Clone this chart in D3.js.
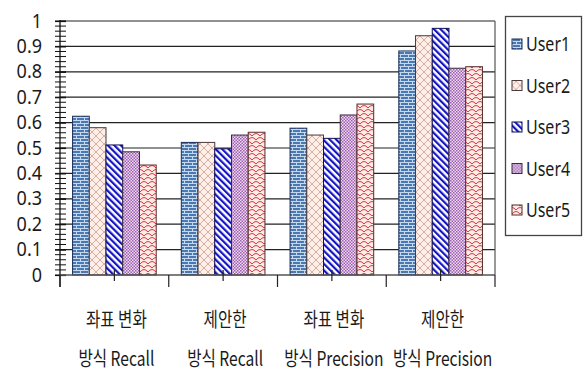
<!DOCTYPE html>
<html>
<head>
<meta charset="utf-8">
<script src="https://cdn.jsdelivr.net/npm/d3@7"></script>
<style>
  html, body { margin: 0; padding: 0; background: #fff; }
  svg { display: block; }
  text { fill: #1a1a1a; }
</style>
</head>
<body>
<svg id="chart" width="583" height="371"></svg>
<script>
// Categories (two-line labels) and per-user scores
const catLine1 = ["좌표 변화", "제안한", "좌표 변화", "제안한"];
const catLine2 = ["방식 Recall", "방식 Recall", "방식 Precision", "방식 Precision"];
const users = ["User1", "User2", "User3", "User4", "User5"];
const user1 = [0.625, 0.522, 0.578, 0.882];
const user2 = [0.58, 0.522, 0.551, 0.942];
const user3 = [0.512, 0.497, 0.538, 0.971];
const user4 = [0.485, 0.551, 0.630, 0.814];
const user5 = [0.433, 0.562, 0.673, 0.820];
const yTickLabels = ["0", "0.1", "0.2", "0.3", "0.4", "0.5", "0.6", "0.7", "0.8", "0.9", "1"];

const series = [user1, user2, user3, user4, user5];
const catIdx = d3.range(catLine1.length);

const svg = d3.select("#chart");
const plotL = 60, plotR = 495, plotT = 21, plotB = 275;

const y = d3.scaleLinear().domain([0, 1]).range([plotB, plotT]);
const x0 = d3.scaleBand().domain(catIdx).range([plotL, plotR]).padding(0);
const x1 = d3.scaleBand().domain(users).range([0, x0.bandwidth()])
  .paddingInner(0).paddingOuter(0.75);

// ---- fill patterns, one per user ----
const defs = svg.append("defs");

// User1: blue brick
const p1 = defs.append("pattern").attr("id", "pat0").attr("patternUnits", "userSpaceOnUse")
  .attr("width", 8).attr("height", 6);
p1.append("rect").attr("width", 8).attr("height", 6).attr("fill", "#4a78b0");
p1.append("path").attr("d", "M0,0.5H8 M0,3.5H8 M0.5,0V3 M4.5,3V6")
  .attr("stroke", "#c6d9ef").attr("stroke-width", 1).attr("fill", "none");

// User2: pale lattice
const p2 = defs.append("pattern").attr("id", "pat1").attr("patternUnits", "userSpaceOnUse")
  .attr("width", 8).attr("height", 8);
p2.append("rect").attr("width", 8).attr("height", 8).attr("fill", "#fdeee8");
p2.append("path").attr("d", "M0,0L8,8 M8,0L0,8")
  .attr("stroke", "#c9a093").attr("stroke-width", 0.8).attr("fill", "none");

// User3: wide blue diagonal stripes
const p3 = defs.append("pattern").attr("id", "pat2").attr("patternUnits", "userSpaceOnUse")
  .attr("width", 4.6).attr("height", 10).attr("patternTransform", "rotate(-45)");
p3.append("rect").attr("width", 4.6).attr("height", 10).attr("fill", "#ffffff");
p3.append("rect").attr("width", 2.2).attr("height", 10).attr("fill", "#1414c4");

// User4: fine purple checker
const p4 = defs.append("pattern").attr("id", "pat3").attr("patternUnits", "userSpaceOnUse")
  .attr("width", 3).attr("height", 3);
p4.append("rect").attr("width", 3).attr("height", 3).attr("fill", "#f2d8ef");
p4.append("rect").attr("width", 1.5).attr("height", 1.5).attr("fill", "#9a62b2");
p4.append("rect").attr("x", 1.5).attr("y", 1.5).attr("width", 1.5).attr("height", 1.5).attr("fill", "#9a62b2");

// User5: red scales
const p5 = defs.append("pattern").attr("id", "pat4").attr("patternUnits", "userSpaceOnUse")
  .attr("width", 8).attr("height", 8);
p5.append("rect").attr("width", 8).attr("height", 8).attr("fill", "#fdebe4");
p5.append("path")
  .attr("d", "M0,4 Q4,-1 8,4 M-4,8 Q0,3 4,8 M4,8 Q8,3 12,8")
  .attr("stroke", "#d8384a").attr("stroke-width", 1).attr("fill", "none");

const strokes = ["#1d2f5a", "#4a3a3a", "#10105a", "#3a2a40", "#5a2a2a"];

// ---- gridlines and plot frame ----
svg.append("g").selectAll("line").data(d3.range(1, 11).map(i => i / 10)).join("line")
  .attr("x1", plotL).attr("x2", plotR)
  .attr("y1", d => y(d)).attr("y2", d => y(d))
  .attr("stroke", "#222").attr("stroke-width", 1.2);
svg.append("line").attr("x1", plotR).attr("x2", plotR).attr("y1", plotT).attr("y2", plotB)
  .attr("stroke", "#555").attr("stroke-width", 1.2);

// ---- bars ----
const groups = svg.append("g").selectAll("g").data(series).join("g")
  .attr("fill", (d, i) => `url(#pat${i})`)
  .attr("stroke", (d, i) => strokes[i]);
groups.each(function (vals, si) {
  d3.select(this).selectAll("rect").data(vals).join("rect")
    .attr("x", (d, ci) => x0(ci) + x1(users[si]))
    .attr("width", x1.bandwidth())
    .attr("y", d => y(d))
    .attr("height", d => y(0) - y(d))
    .attr("stroke-width", 1);
});

// ---- y axis ----
const yAxis = d3.axisLeft(y)
  .tickValues(d3.range(0, 11).map(i => i / 10))
  .tickFormat((d, i) => yTickLabels[i])
  .tickSizeInner(5).tickSizeOuter(0).tickPadding(14);
const gy = svg.append("g").attr("transform", `translate(${plotL},0)`).call(yAxis);
gy.select(".domain").remove();
gy.selectAll(".tick line").attr("x2", 6).attr("x1", -5).attr("stroke", "#111").attr("stroke-width", 1.2);
gy.selectAll(".tick text")
  .attr("font-family", "'Noto Sans', sans-serif").attr("font-size", 20)
  .attr("fill", "#1a1a1a").attr("dy", "0.3em")
  .attr("transform", "scale(0.9,1)")
  .attr("x", -18 / 0.9);
// minor ticks
svg.append("g").selectAll("line").data(d3.range(0, 51).map(i => i / 50)).join("line")
  .attr("x1", plotL - 5).attr("x2", plotL + 6)
  .attr("y1", d => y(d)).attr("y2", d => y(d))
  .attr("stroke", "#111").attr("stroke-width", 1);
svg.append("line").attr("x1", plotL).attr("x2", plotL).attr("y1", plotT - 1).attr("y2", plotB + 12)
  .attr("stroke", "#111").attr("stroke-width", 1.3);

// ---- x axis ----
svg.append("line").attr("x1", plotL).attr("x2", plotR).attr("y1", plotB).attr("y2", plotB)
  .attr("stroke", "#555").attr("stroke-width", 1.5);
const bounds = catIdx.map(i => x0(i)).concat([plotR]);
svg.append("g").selectAll("line").data(bounds).join("line")
  .attr("x1", d => d).attr("x2", d => d).attr("y1", plotB).attr("y2", plotB + 12)
  .attr("stroke", "#222").attr("stroke-width", 1.2);
svg.append("g").selectAll("line").data(catIdx).join("line")
  .attr("x1", i => x0(i) + x0.bandwidth() / 2).attr("x2", i => x0(i) + x0.bandwidth() / 2)
  .attr("y1", plotB - 5).attr("y2", plotB + 6)
  .attr("stroke", "#222").attr("stroke-width", 1.2);

const xl = svg.append("g").selectAll("g").data(catIdx).join("g")
  .attr("transform", i => `translate(${x0(i) + x0.bandwidth() / 2 + 2},0) scale(0.78,1)`)
  .attr("font-family", "'Noto Sans CJK KR', 'Noto Sans', sans-serif")
  .attr("font-size", 20).attr("text-anchor", "middle");
xl.append("text").attr("y", 327).text(i => catLine1[i]);
xl.append("text").attr("y", 366).text(i => catLine2[i]);

// ---- legend ----
const lg = svg.append("g");
lg.append("rect").attr("x", 505.5).attr("y", 16.5).attr("width", 76).attr("height", 219)
  .attr("fill", "#fff").attr("stroke", "#444").attr("stroke-width", 1.3);
const items = lg.selectAll("g").data(users).join("g")
  .attr("transform", (d, i) => `translate(512,${44 + i * 41.5})`);
items.append("rect").attr("x", 0).attr("y", -5).attr("width", 10).attr("height", 10)
  .attr("fill", (d, i) => `url(#pat${i})`).attr("stroke", (d, i) => strokes[i]).attr("stroke-width", 1);
items.append("text").attr("x", 14 / 0.8).attr("dy", "0.35em")
  .attr("transform", "scale(0.8,1)")
  .attr("font-family", "'Noto Sans', sans-serif").attr("font-size", 20)
  .text(d => d);
</script>
</body>
</html>
